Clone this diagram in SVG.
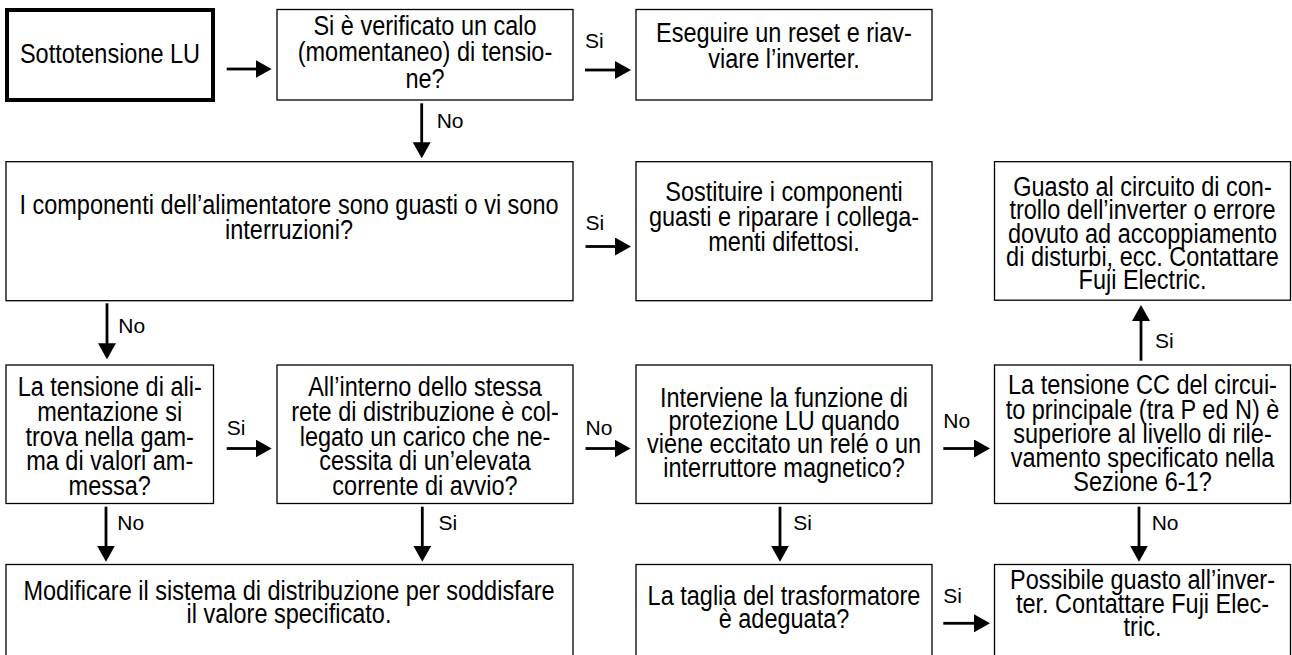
<svg xmlns="http://www.w3.org/2000/svg" width="1292" height="655" viewBox="0 0 1292 655">
<defs>
<style>
.box{fill:#fff;stroke:#000;stroke-width:1.3}
.thick{fill:#fff;stroke:#000;stroke-width:4}
.t{font-family:"Liberation Sans",Arial,sans-serif;font-size:27px;fill:#000;text-anchor:middle}
.lb{font-family:"Liberation Sans",Arial,sans-serif;font-size:21px;fill:#000}
.c{fill:none;stroke:#000;stroke-width:2.8;marker-end:url(#ah)}
</style>
<marker id="ah" viewBox="0 0 16 18" refX="1" refY="9" markerWidth="16" markerHeight="18" markerUnits="userSpaceOnUse" orient="auto">
<path d="M0,0 L16,9 L0,18 z" fill="#000"/>
</marker>
</defs>
<rect width="1292" height="655" fill="#fff"/>

<g id="start">
<rect class="thick" x="7" y="10" width="206" height="90"/>
<text class="t" transform="translate(110 0) scale(0.87 1)"><tspan x="0" y="63.3">Sottotensione LU</tspan></text>
</g>

<g id="q1">
<rect class="box" x="277" y="9.5" width="296" height="90.5"/>
<text class="t" transform="translate(425 0) scale(0.87 1)"><tspan x="0" y="35">Si è verificato un calo</tspan><tspan x="0" y="61.5">(momentaneo) di tensio-</tspan><tspan x="0" y="88">ne?</tspan></text>
</g>

<g id="a1">
<rect class="box" x="636" y="9.5" width="296" height="90.5"/>
<text class="t" transform="translate(784 0) scale(0.87 1)"><tspan x="0" y="42">Eseguire un reset e riav-</tspan><tspan x="0" y="68">viare l’inverter.</tspan></text>
</g>

<g id="q2">
<rect class="box" x="6" y="161.7" width="567" height="139"/>
<text class="t" transform="translate(289 0) scale(0.87 1)"><tspan x="0" y="214">I componenti dell’alimentatore sono guasti o vi sono</tspan><tspan x="0" y="239">interruzioni?</tspan></text>
</g>

<g id="a2">
<rect class="box" x="636" y="161.7" width="296" height="139"/>
<text class="t" transform="translate(784 0) scale(0.87 1)"><tspan x="0" y="201.5">Sostituire i componenti</tspan><tspan x="0" y="226.5">guasti e riparare i collega-</tspan><tspan x="0" y="251.5">menti difettosi.</tspan></text>
</g>

<g id="a3">
<rect class="box" x="994.5" y="161.7" width="296" height="138.5"/>
<text class="t" transform="translate(1142.5 0) scale(0.87 1)"><tspan x="0" y="196.3">Guasto al circuito di con-</tspan><tspan x="0" y="219.5">trollo dell’inverter o errore</tspan><tspan x="0" y="242.7">dovuto ad accoppiamento</tspan><tspan x="0" y="265.9">di disturbi, ecc. Contattare</tspan><tspan x="0" y="289">Fuji Electric.</tspan></text>
</g>

<g id="q3">
<rect class="box" x="6" y="365" width="207.5" height="138.5"/>
<text class="t" transform="translate(109.7 0) scale(0.87 1)"><tspan x="0" y="396.3">La tensione di ali-</tspan><tspan x="0" y="421">mentazione si</tspan><tspan x="0" y="445.7">trova nella gam-</tspan><tspan x="0" y="470.4">ma di valori am-</tspan><tspan x="0" y="495">messa?</tspan></text>
</g>

<g id="q4">
<rect class="box" x="277" y="365" width="296" height="138.5"/>
<text class="t" transform="translate(425 0) scale(0.87 1)"><tspan x="0" y="396.3">All’interno dello stessa</tspan><tspan x="0" y="421">rete di distribuzione è col-</tspan><tspan x="0" y="445.7">legato un carico che ne-</tspan><tspan x="0" y="470.4">cessita di un’elevata</tspan><tspan x="0" y="495">corrente di avvio?</tspan></text>
</g>

<g id="q5">
<rect class="box" x="636" y="365" width="296" height="138.5"/>
<text class="t" transform="translate(784 0) scale(0.87 1)"><tspan x="0" y="406.7">Interviene la funzione di</tspan><tspan x="0" y="430">protezione LU quando</tspan><tspan x="0" y="453.3">viene eccitato un relé o un</tspan><tspan x="0" y="476.6">interruttore magnetico?</tspan></text>
</g>

<g id="q6">
<rect class="box" x="994.5" y="365" width="296" height="138.5"/>
<text class="t" transform="translate(1142.5 0) scale(0.87 1)"><tspan x="0" y="394.5">La tensione CC del circui-</tspan><tspan x="0" y="418.7">to principale (tra P ed N) è</tspan><tspan x="0" y="442.9">superiore al livello di rile-</tspan><tspan x="0" y="467.1">vamento specificato nella</tspan><tspan x="0" y="491.3">Sezione 6-1?</tspan></text>
</g>

<g id="a4">
<rect class="box" x="6" y="564.5" width="567" height="100"/>
<text class="t" transform="translate(289 0) scale(0.87 1)"><tspan x="0" y="600">Modificare il sistema di distribuzione per soddisfare</tspan><tspan x="0" y="623">il valore specificato.</tspan></text>
</g>

<g id="q7">
<rect class="box" x="636" y="564.5" width="296" height="100"/>
<text class="t" transform="translate(784 0) scale(0.87 1)"><tspan x="0" y="605">La taglia del trasformatore</tspan><tspan x="0" y="628.5">è adeguata?</tspan></text>
</g>

<g id="a5">
<rect class="box" x="994.5" y="564.5" width="296" height="100"/>
<text class="t" transform="translate(1142.5 0) scale(0.87 1)"><tspan x="0" y="589.5">Possibile guasto all’inver-</tspan><tspan x="0" y="612.8">ter. Contattare Fuji Elec-</tspan><tspan x="0" y="636">tric.</tspan></text>
</g>

<g id="connectors">
<path class="c" d="M226.7,69 H256.7"/>
<path class="c" d="M585,70 H616"/>
<text class="lb" x="585" y="48.3">Si</text>
<path class="c" d="M421.7,103.3 V143.3"/>
<text class="lb" x="436.7" y="128.3">No</text>
<path class="c" d="M585.5,246.5 H616"/>
<text class="lb" x="585.5" y="230">Si</text>
<path class="c" d="M107,303.3 V344.3"/>
<text class="lb" x="118.3" y="333.3">No</text>
<path class="c" d="M1141,360.7 V320"/>
<text class="lb" x="1155" y="348.3">Si</text>
<path class="c" d="M226.7,448.5 H256.7"/>
<text class="lb" x="226.7" y="435">Si</text>
<path class="c" d="M585.5,448.5 H615.5"/>
<text class="lb" x="585.5" y="435">No</text>
<path class="c" d="M943.3,448.5 H975"/>
<text class="lb" x="943.3" y="428.3">No</text>
<path class="c" d="M106,506.7 V546.7"/>
<text class="lb" x="117.3" y="530">No</text>
<path class="c" d="M422.3,506.7 V546.7"/>
<text class="lb" x="438.6" y="530">Si</text>
<path class="c" d="M780,506.7 V546.7"/>
<text class="lb" x="793.3" y="530">Si</text>
<path class="c" d="M1139,506.7 V546.7"/>
<text class="lb" x="1151.7" y="530">No</text>
<path class="c" d="M943.3,623.3 H975"/>
<text class="lb" x="943.3" y="603.3">Si</text>
</g>
</svg>
